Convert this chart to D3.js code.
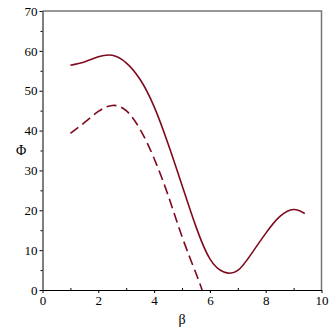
<!DOCTYPE html>
<html>
<head>
  <meta charset="utf-8"/>
  <title>Phi vs beta</title>
  <style>
    body { margin: 0; background: #fff; }
    text { font-family: "Liberation Serif", "Times New Roman", serif; }
  </style>
  <script src="https://d3js.org/d3.v7.min.js"></script>
</head>
<body>
<div id="my_dataviz"></div>
<script>
// data
var betaSolid = [1.0, 1.5, 2.0, 2.5, 3.0, 3.5, 4.0, 4.5, 5.0, 5.5, 6.0, 6.5, 7.0, 7.5, 8.0, 8.5, 9.0, 9.4]
var phiSolid  = [56.4, 57.2, 58.5, 58.9, 57.0, 52.8, 46.0, 36.7, 26.3, 15.9, 7.8, 4.5, 4.9, 9.2, 14.2, 18.4, 20.2, 19.2]
var betaDash  = [1.0, 1.5, 2.0, 2.5, 3.0, 3.5, 4.0, 4.5, 5.0, 5.5, 5.72]
var phiDash   = [39.3, 42.0, 44.8, 46.3, 45.0, 40.3, 33.0, 23.8, 13.4, 4.2, 0.0]
var xTicks = [0, 2, 4, 6, 8, 10]
var yTicks = [0, 10, 20, 30, 40, 50, 60, 70]

var width = 332, height = 332
var padL = 42.5, padR = 321.5, padT = 11, padB = 290

var svg = d3.select("#my_dataviz")
  .append("svg")
    .attr("width", width)
    .attr("height", height)

var x = d3.scaleLinear().domain([0, 10]).range([padL, padR])
var y = d3.scaleLinear().domain([0, 70]).range([padB, padT])

// grey frame on top and right
svg.append("path")
  .attr("d", "M" + padL + "," + padT + "H" + padR + "V" + padB)
  .attr("fill", "none")
  .attr("stroke", "#777")
  .attr("stroke-width", 1.5)

// minor ticks
svg.append("g")
  .attr("transform", "translate(0," + padB + ")")
  .call(d3.axisTop(x).tickValues([1, 3, 5, 7, 9]).tickSize(2).tickFormat(""))
  .call(function(g) { g.select(".domain").remove() })
svg.append("g")
  .attr("transform", "translate(" + padL + ",0)")
  .call(d3.axisLeft(y).tickValues([5, 15, 25, 35, 45, 55, 65]).tickSize(2).tickFormat(""))
  .call(function(g) { g.select(".domain").remove() })

// x axis
var gx = svg.append("g")
  .attr("transform", "translate(0," + padB + ")")
  .call(d3.axisBottom(x).tickValues(xTicks).tickSize(3).tickSizeOuter(0).tickPadding(3))
gx.selectAll("text").attr("font-size", 13).attr("fill", "#000")
  .style("font-family", '"Liberation Serif", "Times New Roman", serif')

// y axis
var gy = svg.append("g")
  .attr("transform", "translate(" + padL + ",0)")
  .call(d3.axisLeft(y).tickValues(yTicks).tickSize(3).tickSizeOuter(0).tickPadding(2))
gy.selectAll("text").attr("font-size", 13).attr("fill", "#000")
  .style("font-family", '"Liberation Serif", "Times New Roman", serif')

// axis labels
svg.append("text")
  .attr("x", (padL + padR) / 2)
  .attr("y", 324)
  .attr("text-anchor", "middle")
  .attr("font-size", 14)
  .text("β")
svg.append("text")
  .attr("x", 21)
  .attr("y", 155)
  .attr("text-anchor", "middle")
  .attr("font-size", 14)
  .text("Φ")

var line = d3.line()
  .x(function(d) { return x(d[0]) })
  .y(function(d) { return y(d[1]) })
  .curve(d3.curveNatural)

var solid = betaSolid.map(function(b, i) { return [b, phiSolid[i]] })
var dashed = betaDash.map(function(b, i) { return [b, phiDash[i]] })

svg.append("path")
  .datum(solid)
  .attr("d", line)
  .attr("fill", "none")
  .attr("stroke", "#7f0a1e")
  .attr("stroke-width", 1.6)

svg.append("path")
  .datum(dashed)
  .attr("d", line)
  .attr("fill", "none")
  .attr("stroke", "#7f0a1e")
  .attr("stroke-width", 1.6)
  .attr("stroke-dasharray", "10,5")
</script>
</body>
</html>
